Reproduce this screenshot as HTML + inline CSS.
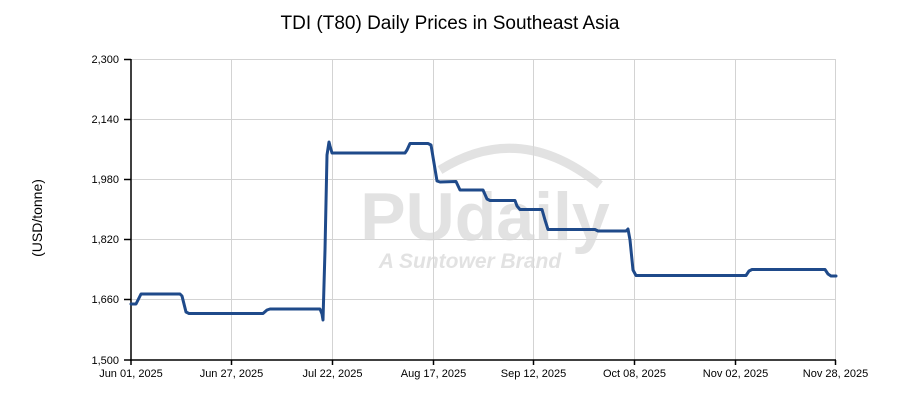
<!DOCTYPE html>
<html><head><meta charset="utf-8"><style>
html,body{margin:0;padding:0;background:#fff;}
svg{display:block;font-family:"Liberation Sans",Arial,sans-serif;}
</style></head><body>
<svg width="900" height="400" viewBox="0 0 900 400">
<text x="450" y="29" text-anchor="middle" font-size="19" fill="#000">TDI (T80) Daily Prices in Southeast Asia</text>
<g stroke="#d3d3d3" stroke-width="1">
<line x1="131" y1="59.5" x2="836" y2="59.5"/><line x1="131" y1="119.5" x2="836" y2="119.5"/><line x1="131" y1="179.5" x2="836" y2="179.5"/><line x1="131" y1="239.5" x2="836" y2="239.5"/><line x1="131" y1="299.5" x2="836" y2="299.5"/>
<line x1="231.5" y1="59" x2="231.5" y2="360"/><line x1="332.5" y1="59" x2="332.5" y2="360"/><line x1="433.5" y1="59" x2="433.5" y2="360"/><line x1="533.5" y1="59" x2="533.5" y2="360"/><line x1="634.5" y1="59" x2="634.5" y2="360"/><line x1="735.5" y1="59" x2="735.5" y2="360"/><line x1="835.5" y1="59" x2="835.5" y2="360"/>
</g>
<g opacity="0.75">
<path d="M440 170 Q520 120 600 185" fill="none" stroke="#d9d9d9" stroke-width="9"/>
<text x="485" y="240" text-anchor="middle" font-size="68" font-weight="bold" fill="#d9d9d9">PUdaily</text>
<text x="470" y="268" text-anchor="middle" font-size="21" font-weight="bold" font-style="italic" fill="#d9d9d9">A Suntower Brand</text>
</g>
<g stroke="#000" stroke-width="1.5">
<line x1="131" y1="59" x2="131" y2="361"/><line x1="130" y1="360" x2="836" y2="360"/>
<line x1="124" y1="59.5" x2="131" y2="59.5"/><line x1="124" y1="119.5" x2="131" y2="119.5"/><line x1="124" y1="179.5" x2="131" y2="179.5"/><line x1="124" y1="239.5" x2="131" y2="239.5"/><line x1="124" y1="299.5" x2="131" y2="299.5"/><line x1="124" y1="360" x2="131" y2="360"/>
<line x1="131" y1="360" x2="131" y2="365"/><line x1="231.5" y1="360" x2="231.5" y2="365"/><line x1="332.5" y1="360" x2="332.5" y2="365"/><line x1="433.5" y1="360" x2="433.5" y2="365"/><line x1="533.5" y1="360" x2="533.5" y2="365"/><line x1="634.5" y1="360" x2="634.5" y2="365"/><line x1="735.5" y1="360" x2="735.5" y2="365"/><line x1="835.5" y1="360" x2="835.5" y2="365"/>
</g>
<g font-size="11" fill="#000" text-anchor="end">
<text x="119" y="63">2,300</text><text x="119" y="123">2,140</text><text x="119" y="183">1,980</text><text x="119" y="243">1,820</text><text x="119" y="303">1,660</text><text x="119" y="364">1,500</text>
</g>
<g font-size="11" fill="#000" text-anchor="middle">
<text x="131" y="377">Jun 01, 2025</text><text x="231.5" y="377">Jun 27, 2025</text><text x="332.5" y="377">Jul 22, 2025</text><text x="433.5" y="377">Aug 17, 2025</text><text x="533.5" y="377">Sep 12, 2025</text><text x="634.5" y="377">Oct 08, 2025</text><text x="735.5" y="377">Nov 02, 2025</text><text x="835.5" y="377">Nov 28, 2025</text>
</g>
<text transform="translate(42,218) rotate(-90)" text-anchor="middle" font-size="14" fill="#000">(USD/tonne)</text>
<path d="M131 304 L136 304 L141 294 L180 294 L182 296 L186 312 L189 313.5 L263 313.5 L267 310 L270 309 L320 309 L322 314 L323 320 L325 250 L327 155 L329 142 L330 146 L332 153 L405 153 L407 150 L410 143.5 L428 143.5 L431 145 L437 181 L440 182 L456 181.5 L460 190 L483 190 L487 199 L490 200.5 L515 200.5 L517 206 L520 209.5 L542 209.5 L545 220 L548 229.5 L595 229.5 L598 231 L626 231 L628 229 L630 240 L633 270 L636 275.5 L746 275.5 L749 271 L752 269.5 L825 269.5 L828 274 L831 276 L836 276" fill="none" stroke="#1f4a8a" stroke-width="3" stroke-linejoin="round" stroke-linecap="round"/>
</svg>
</body></html>
